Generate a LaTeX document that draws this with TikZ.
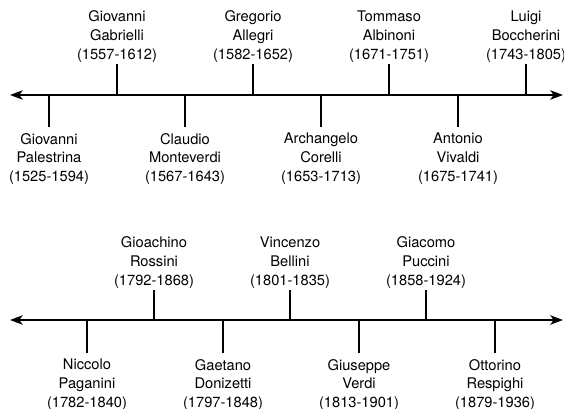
\documentclass[tikz,border=0pt]{standalone}
\usepackage{fontspec}
\setmainfont{TeX Gyre Heros}
\usetikzlibrary{arrows.meta}
\tikzset{
	timeaxis/.style={line width=1.5pt,{Stealth[length=9.5pt,width=7pt,inset=2.5pt]}-{Stealth[length=9.5pt,width=7pt,inset=2.5pt]}},
	tickline/.style={line width=1.5pt},
	composer/.style={align=center,font=\fontsize{11}{14}\selectfont},
	above label/.style={composer,anchor=south,inner sep=1pt},
	below label/.style={composer,anchor=north,inner sep=4.5pt},
}

\begin{document}
\begin{tikzpicture}[x=0.75pt,y=-0.75pt]
	\useasboundingbox (0,0) rectangle (564,409);
	
	% first timeline
	\coordinate (left1) at (10,95);
	\coordinate (right1) at (563,95);
	\draw[timeaxis] (left1) -- (right1);
	% composers above the line
	\foreach \x/\n/\txt in {117/gabrielli/{Giovanni\\Gabrielli\\(1557-1612)},
		253/allegri/{Gregorio\\Allegri\\(1582-1652)},
		389/albinoni/{Tommaso\\Albinoni\\(1671-1751)},
		526/boccherini/{Luigi\\Boccherini\\(1743-1805)}}{
		\draw[tickline] (\x,95) coordinate (t-\n) -- (\x,64) coordinate (e-\n);
		\node[above label] (\n) at (e-\n) {\txt};
	}
	% composers below the line
	\foreach \x/\n/\txt in {49/palestrina/{Giovanni\\Palestrina\\(1525-1594)},
		185/monteverdi/{Claudio\\Monteverdi\\(1567-1643)},
		321/corelli/{Archangelo\\Corelli\\(1653-1713)},
		458/vivaldi/{Antonio\\Vivaldi\\(1675-1741)}}{
		\draw[tickline] (\x,95) coordinate (t-\n) -- (\x,127) coordinate (e-\n);
		\node[below label] (\n) at (e-\n) {\txt};
	}
	
	% second timeline
	\coordinate (left2) at (10,320);
	\coordinate (right2) at (563,320);
	\draw[timeaxis] (left2) -- (right2);
	% composers above the line
	\foreach \x/\n/\txt in {154/rossini/{Gioachino\\Rossini\\(1792-1868)},
		290/bellini/{Vincenzo\\Bellini\\(1801-1835)},
		426/puccini/{Giacomo\\Puccini\\(1858-1924)}}{
		\draw[tickline] (\x,320) coordinate (t-\n) -- (\x,290) coordinate (e-\n);
		\node[above label] (\n) at (e-\n) {\txt};
	}
	% composers below the line
	\foreach \x/\n/\txt in {87/paganini/{Niccolo\\Paganini\\(1782-1840)},
		223/donizetti/{Gaetano\\Donizetti\\(1797-1848)},
		359/verdi/{Giuseppe\\Verdi\\(1813-1901)},
		495/respighi/{Ottorino\\Respighi\\(1879-1936)}}{
		\draw[tickline] (\x,320) coordinate (t-\n) -- (\x,353) coordinate (e-\n);
		\node[below label] (\n) at (e-\n) {\txt};
	}
\end{tikzpicture}
\end{document}
